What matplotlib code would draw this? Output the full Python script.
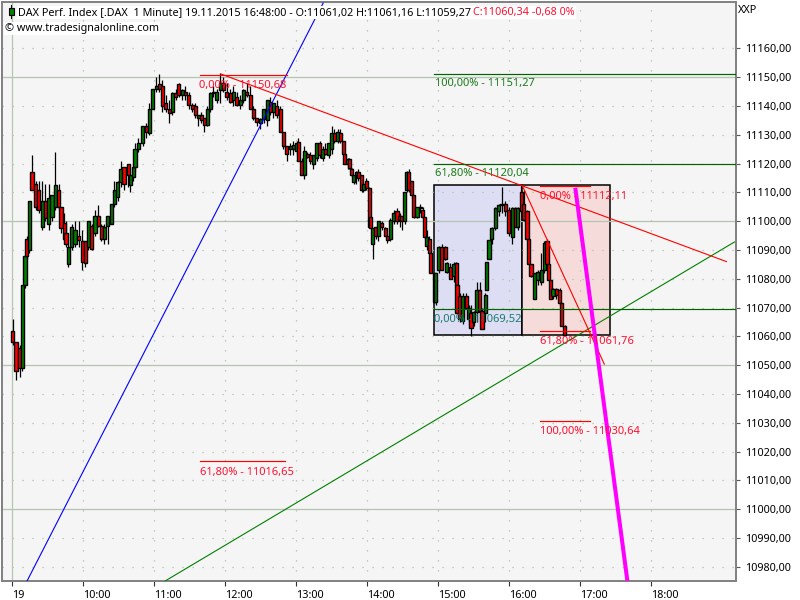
import matplotlib
matplotlib.use('Agg')
import matplotlib.pyplot as plt
from matplotlib.patches import Rectangle
from matplotlib.transforms import ScaledTranslation
import numpy as np

plt.rcParams['font.family'] = ['Noto Sans', 'DejaVu Sans']

# prices are 11000 + value, time is minutes after 9:00
base = 11000
bar_min = [0.6,3.4,6.5,8.5,11,12.4,14.4,16.9,20,22.6,25.4,28.1,31,33.8,36.6,39.5,41.4,44.2,45.6,47.6,
    50.4,53.2,56.4,59.2,61.7,64.5,67.3,70.1,72.9,75.2,78,80.9,83.9,86.4,89.3,91.9,94.6,98,99.7,102.5,
    103.9,106.7,110.4,113.2,116,118.9,121.7,124.2,127,129.9,132.7,135.5,138.3,140.9,143.7,146.4,149.3,152.1,154.6,157.4,
    160,162.2,165,167.3,170.1,173,175.8,178.5,181.4,184.2,187,189.9,192.7,195.4,198.3,201.1,203.9,206.8,209.6,212.4,
    215.5,218,220.8,223.7,226.5,229.2,232.1,234.9,237.7,240.6,241.9,244.8,246.7,249.5,251.8,254.6,257.5,259.7,262.5,264.5,
    267.3,270.1,272.3,274.9,277.2,280,280.8,283.7,285,287,288.4,290.7,292.6,295.5,296.8,299.1,301.7,302.5,304.8,307.3,
    309.5,312.4,315.2,317.1,319.4,322.2,325.1,327.3,329.3,331.5,333.5,334.9,337.7,339.1,342,344.8,347,348.4,350.4,352.4,
    353.8,356.6,357.9,360.2,363.1,365.9,367.3,370.1,372.9,375.2,375.8,378,380.8,383.6,385.6,387.6,389.8,392.7,394.9,396.9,
    399.7,401.1,402.8,405.3,408.1,410.9,413.8,416.6,419.4,422.3,425,427,429.9,432.1,434.9,435.8,438.3,441.1,443.9,446.8,
    449.5,451.8,453.2,454.6,456.9,459.7,462.5,463.9,466.7]
opens = [62,58,56,49,78,94,90,117,113,111,
    98,107,99,101.5,105,111,105,99.5,96,85,
    91,92,95,93,93,91,98.5,96,102,98.5,
    94,98.5,99,106,108.5,113.5,119,120,112.5,115.5,
    119,125,127,133,130.5,139,146,147.5,147,141,
    139,138,144.5,147.5,144,145,144,140.5,140,136,
    137,136,133.5,139,144.5,142,145.5,148,145,144.5,
    142,143,140.5,142,145,144,139,136,134,135.5,
    135,141.5,138,140,139,131,126,125,125,124.5,
    127.5,121,116,123.5,123,120,122,127,122,125,
    123,125,130.5,128,130.5,128,123.5,120,121.5,118.3,
    113.5,116,117,116,111,114,111.5,101.5,92,98,
    95,99.5,97.5,95,94,100,103.5,102,102,100,
    111,117,114,109,101.5,105,104,101.5,91.5,94,
    89,82,72,83,91,91,82.5,84,81,85.5,
    78,74,65.5,74,66,68,65,68.5,76,69,
    68,76,87,94,97.5,103.5,106,106,104,94.5,
    104.5,98,110,106,103.5,94,85,73,79.5,79,
    83,93,85,79.5,74,76.5,76,71.5,63.5]
highs = [66,58,57,50,88,95,107,123,114,114,
    114,113,113,109,124,113,105,103,100,92,
    99,100,100,97,93,100,99,104,105.5,99,
    99,102,106,114,114,121,119,120,116,119,
    127,129,133,134,141,146,150,151,149,144,
    142,145,146,148,146,147,145,141,141,137,
    138,136,140,145,147,146,151.5,150,148,146,
    147,145,144,146,148,147,140,136,136,139,
    142,143,141,142,140,131,126,127,128,128,
    129,122,126,124,124,123,127,128,126,127,
    127,133,132,132,132,128,123.5,122,122,118.5,
    116,117.5,118,116,113,115,112,101.5,97.5,98,
    100,100,98,95,101,104,104.5,103,102,110,
    117.5,118,114,109,105,106,105,101.5,97,95,
    90,82,82,91.5,92,91.5,86,85.5,86,86,
    78,75,75,75,71,71,69,79,79,70,
    75,86,93.5,98,105,106,112,107,105,105,
    105,105,112.5,111,104,94.5,85,82,83,89,
    93,94,85,80,77,77,77,72,64]
lows = [57,45,46,48,77,87,89,111,104,103,
    97,100,97,100,104,104,96,93,91,84,
    90,91,91,83,84,90,90,95,98,93,
    92,92,99,105,107,112,111,112,110,114,
    117,124,126,129,130,139,145,145,138,138,
    134,137,142,143,142,142,139,138,136,133,
    134,131,133,138,143,141,141,145,142,141,
    140,140,139,141,143,139,135,133,132,134,
    133,137,136,136,131,125,121,123,123,123,
    121,116,114.8,122,120,118,121,122,121,123,
    122,123.5,127,127,127,123,120,118,118,115.5,
    113,113,114,110,110,111,98,97.5,87,94,
    93,97,95,92.5,93,99,99,98,97,99,
    110,110,108,101,101,103,101,94,90,89,
    82,71.5,71,82,83,86.5,82,80,79,77.5,
    68,65,64.5,70,64,60,63.5,65,69,62.5,
    65,76,87,92,97,102,103,102,95,92,
    98,97,103,100,94,85,80.5,73,78,78,
    82,85,79.5,73,73,73,71,63.5,60.5]
closes = [58,48,49,78,88,88,107,111,105,104,
    107,101,108,109,112.5,105,97.5,94,92,91,
    98,97,93.5,86,85.5,100,90.5,102,98.5,94,
    98,102,106,111,113.5,118,113,116,116,119,
    125,127,133,131,139,146,147,146,140,139,
    137.5,144.5,143,144,145.5,144,140.5,139,137,137,
    135,133.5,139,144.5,145,145,148,145.5,143,141.5,
    145,140.5,142,145.5,144,139,136,134.5,135.5,139,
    142,138,141,137,131,126,123.5,126,126.5,127,
    121,116,124.5,122.3,121,123,127,123,125,123.5,
    127,130.5,128,131,128,123.5,120,121.5,118.5,116,
    116,117,115,111,113,111.5,98,97.5,97.5,95,
    100,98,95,93.5,100.5,103,100,100.5,100,110,
    117,111,109,101.5,105,104.5,101.5,94.5,94.5,89,
    82,72,82,91,83,87,85.5,80,85,78,
    68,66,74,70,70,63,68.5,76,69,62.5,
    74.5,86,93.5,97.5,104.5,105.5,105.5,103.5,96,104.5,
    98,104.5,103.5,100.5,94,85,81,82,82.5,83,
    92.5,85,79.5,73,76.5,74.5,71.5,63.5,60.5]

hour_ticks = [0, 60, 120, 180, 240, 300, 360, 420, 480, 540]
hour_labels = ['19', '10:00', '11:00', '12:00', '13:00', '14:00', '15:00', '16:00', '17:00', '18:00']
price_ticks = list(range(10980, 11170, 10))
big_grid = [11000, 11050, 11100, 11150]

# hand drawn tools on the chart
blue_t, blue_p = [12.7, 262.8], [10975.1, 11175.8]
green_t, green_p = [129.3, 610.1], [10975.1, 11092.8]
red_t, red_p = [176.6, 603.3], [11151.1, 11086]
steep_t, steep_p = [430.7, 500.2], [11112.6, 11050.4]
pink_t, pink_p = [475.7, 519.7], [11111.6, 10975.1]

green_levels = [11151.27, 11120.04, 11069.52]
red_levels = [11150.68, 11112.11, 11061.76, 11030.64, 11016.65]
red_starts = [158.9, 446.2, 446.2, 446.2, 158.9]
red_ends = [232.4, 488.4, 488.4, 488.4, 230.7]

fib_text = ['0,00% - 11150,68', '100,00% - 11151,27', '61,80% - 11120,04', '0,00% - 11112,11',
            '0,00% - 11069,52', '61,80% - 11061,76', '100,00% - 11030,64', '61,80% - 11016,65']
fib_t = [158, 357.4, 357.4, 446.2, 356.6, 446.2, 446.2, 158.9]
fib_p = [11147.2, 11147.8, 11116.6, 11108.6, 11065.9, 11058.3, 11027, 11012.8]
fib_col = ['#ff1030', '#1a7a1a', '#1a7a1a', '#ff1030', '#1a7a70', '#ff1030', '#ff1030', '#ff1030']

fig = plt.figure(figsize=(8, 6), dpi=100, facecolor='white')
ax = fig.add_axes([2/800, 1-581/600, 733.5/800, 579.5/600], facecolor='#f5f5f5')

o = base + np.array(opens)
h = base + np.array(highs)
l = base + np.array(lows)
c = base + np.array(closes)
t = np.array(bar_min)

# boxes
ax.add_patch(Rectangle((356.8, 11060.4), 430.4-356.8, 11112.7-11060.4, fc='#dddef3', ec='black', lw=1.1, zorder=1))
ax.add_patch(Rectangle((430.4, 11060.4), 504.7-430.4, 11112.7-11060.4, fc='#f5dcda', ec='black', lw=1.1, zorder=1))

# grid
for p in price_ticks:
    if p not in big_grid:
        ax.axhline(p, color='#a8c0a8', lw=0.9, ls=(0, (1, 7)), zorder=1.5)
for p in big_grid:
    ax.axhline(p, color='#b4c4b0', lw=0.9, zorder=1.5)
for x in hour_ticks[1:]:
    ax.axvline(x, color='#a8c0a8', lw=0.9, ls=(0, (1, 7)), zorder=1.5)
ax.axvline(0, color='#b4c8b0', lw=0.9, zorder=1.5)

# candles
ax.vlines(t, l, h, color='black', lw=0.9, zorder=3)
cols = ['#008000' if cc >= oo else '#ff0000' for oo, cc in zip(o, c)]
ax.bar(t, c-o, bottom=o, width=2.6, color=cols, edgecolor='black', lw=1.0, zorder=3.2)

# tools
ax.plot(blue_t, blue_p, color='#0000ff', lw=0.8, zorder=4)
ax.plot(green_t, green_p, color='#008000', lw=0.8, zorder=4)
ax.plot(red_t, red_p, color='#ff0000', lw=0.8, zorder=4)
ax.plot(steep_t, steep_p, color='#ff0000', lw=0.8, zorder=4)
ax.plot(pink_t, pink_p, color='#ff00ff', lw=2.9, solid_capstyle='butt', zorder=4.5)
for p in green_levels:
    ax.plot([356.8, 611], [p, p], color='#006400', lw=0.85, zorder=4)
for p, a, b in zip(red_levels, red_starts, red_ends):
    ax.plot([a, b], [p, p], color='#ff0000', lw=0.85, zorder=4)
for s, x, y, col in zip(fib_text, fib_t, fib_p, fib_col):
    ax.text(x, y, s, color=col, fontsize=8.0, va='center', ha='left', zorder=6)

ax.set_xlim(-8.45, 611)
ax.set_ylim(10975.1, 11176.3)
ax.yaxis.tick_right()
ax.set_yticks(price_ticks)
ax.set_yticklabels([f'{p},00' for p in price_ticks])
ax.set_xticks(hour_ticks)
ax.set_xticklabels(hour_labels, ha='left')
for lab in ax.get_xticklabels():
    lab.set_transform(lab.get_transform() + ScaledTranslation(3/100, 0, fig.dpi_scale_trans))
for lab in ax.get_yticklabels():
    lab.set_transform(lab.get_transform() + ScaledTranslation(0, -1/100, fig.dpi_scale_trans))
ax.tick_params(axis='y', length=3.2, width=0.8, color='#555555', pad=4, labelsize=7.8)
ax.tick_params(axis='x', length=3.6, width=0.8, color='#333333', pad=3, labelsize=7.8)
for s in ax.spines.values():
    s.set_color('#808080')
    s.set_linewidth(1.4)

# header
box = dict(fc='white', ec='none', pad=1)
fig.text(18/800, 1-12.5/600, 'DAX Perf. Index [.DAX  1 Minute] 19.11.2015 16:48:00 - O:11061,02 H:11061,16 L:11059,27',
         fontsize=7.8, va='center', ha='left', color='black', bbox=box, zorder=10)
fig.text(473/800, 1-12.5/600, 'C:11060,34 -0,68 0%', fontsize=7.8, va='center', ha='left', color='#ff1030', bbox=box, zorder=10)
fig.text(5/800, 1-28.5/600, '\u00a9 www.tradesignalonline.com', fontsize=7.8, va='center', ha='left', color='black', bbox=box, zorder=10)
fig.text(738/800, 1-10.5/600, 'XXP', fontsize=7.8, va='center', ha='left', color='black')
fig.add_artist(plt.Line2D([11/800, 11/800], [1-5/600, 1-18/600], color='black', lw=0.8, zorder=11))
fig.add_artist(Rectangle((8.5/800, 1-15/600), 5/800, 7/600, fc='#008000', ec='black', lw=0.8, transform=fig.transFigure, zorder=11))

fig.savefig('out.png', dpi=100)
